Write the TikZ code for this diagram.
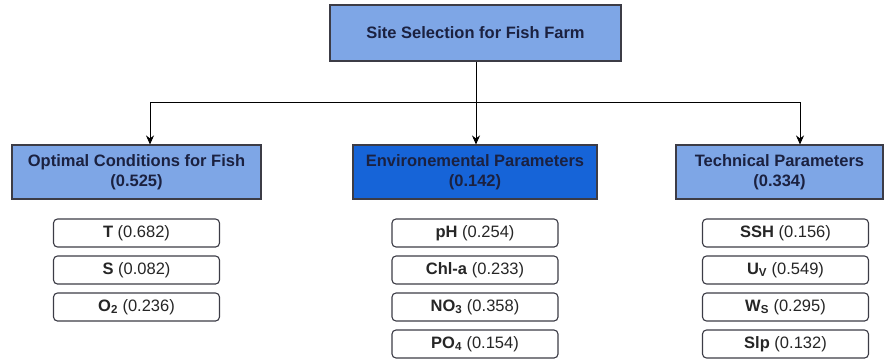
\documentclass[tikz,border=0pt]{standalone}
\usepackage{fontspec}
\setmainfont{Liberation Sans}
\usetikzlibrary{arrows.meta,positioning}

\definecolor{lightblue}{RGB}{126,166,230}
\definecolor{deepblue}{RGB}{22,100,216}
\definecolor{navytext}{RGB}{27,33,64}
\definecolor{edgegrey}{RGB}{60,60,70}

\begin{document}
\begin{tikzpicture}[x=1pt, y=-1pt,
    mainbox/.style={draw=edgegrey, line width=1.1pt, fill=lightblue, text=navytext,
      font=\fontsize{16.5}{20}\selectfont\bfseries, align=center, inner sep=0pt},
    itembox/.style={draw=edgegrey, line width=1.1pt, rounded corners=4pt, fill=white,
      minimum width=166pt, minimum height=28pt, inner sep=0pt,
      font=\fontsize{16.5}{20}\selectfont, text=black!85},
    arr/.style={line width=0.9pt, -{Stealth[length=9pt,width=8pt]}}]
    \useasboundingbox (0,0) rectangle (886,360);

    % goal
    \node[mainbox, minimum width=291pt, minimum height=56pt] (site) at (475.5,33) {Site Selection for Fish Farm};

    % criteria
    \node[mainbox, minimum width=249pt, minimum height=54pt] (optc) at (136.5,172) {Optimal Conditions for Fish\\(0.525)};
    \node[mainbox, fill=deepblue, minimum width=244pt, minimum height=54pt] (envp) at (475,172) {Environemental Parameters\\(0.142)};
    \node[mainbox, minimum width=207pt, minimum height=54pt] (tech) at (779.5,172) {Technical Parameters\\(0.334)};

    % connectors
    \coordinate (jl) at (150,102);
    \coordinate (bus) at (476,102);
    \coordinate (jr) at (800,102);
    \draw[line width=0.9pt] (site.south -| bus) -- (bus);
    \draw[line width=0.9pt] (jl) -- (jr);
    \draw[arr] (jl) -- (jl |- optc.north);
    \draw[arr] (bus) -- (bus |- envp.north);
    \draw[arr] (jr) -- (jr |- tech.north);

    % sub-criteria
    \foreach \lbl/\val [count=\i] in {T/0.682, S/0.082, O\textsubscript{2}/0.236}
      \node[itembox] (fish\i) at (136.5,196+37*\i) {\textbf{\lbl} (\val)};
    \foreach \lbl/\val [count=\i] in {pH/0.254, Chl-a/0.233, NO\textsubscript{3}/0.358, PO\textsubscript{4}/0.154}
      \node[itembox] (env\i) at (475,196+37*\i) {\textbf{\lbl} (\val)};
    \foreach \lbl/\val [count=\i] in {SSH/0.156, U\textsubscript{V}/0.549, W\textsubscript{S}/0.295, Slp/0.132}
      \node[itembox] (tec\i) at (785.5,196+37*\i) {\textbf{\lbl} (\val)};
  \end{tikzpicture}
\end{document}
